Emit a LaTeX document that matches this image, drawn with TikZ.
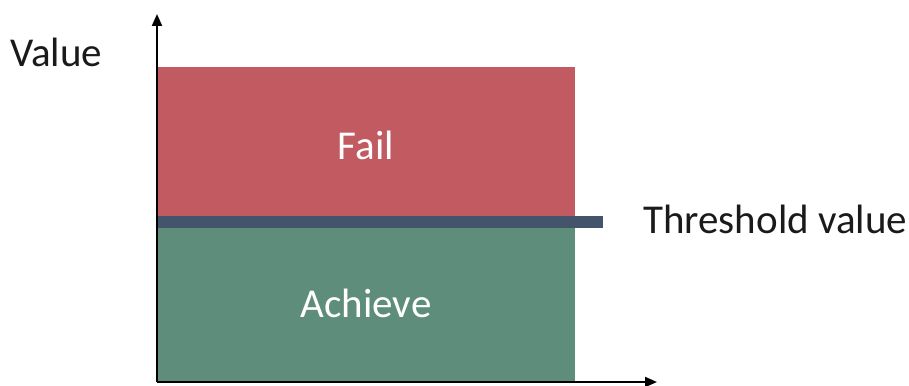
\documentclass[tikz,border=0pt]{standalone}
\usepackage{fontspec}
\setmainfont{Carlito}
\usetikzlibrary{arrows.meta}
\definecolor{failred}{HTML}{C25A62}
\definecolor{achgreen}{HTML}{5F8D7C}
\definecolor{barblue}{HTML}{44546A}
\definecolor{txt}{HTML}{1A1A1A}
\begin{document}
\begin{tikzpicture}[x=1pt,y=-1pt,
  lbl/.style={font=\fontsize{41}{48}\selectfont},
  axis/.style={line width=2pt,-{Triangle[length=12pt,width=10pt]}}]
\useasboundingbox (0,0) rectangle (909,385);
\fill[failred] (157,67) rectangle (575,216);
\fill[achgreen] (157,216) rectangle (575,382);
\fill[barblue] (157,216) rectangle (603,228);
\node[lbl,text=white] (fail) at (366,145) {Fail};
\node[lbl,text=white] (ach) at (366,303) {Achieve};
\node[lbl,text=txt,anchor=west,inner sep=0pt] (thr) at (643,219) {Threshold value};
\node[lbl,text=txt,anchor=west,inner sep=0pt] (val) at (10,52) {Value};
\coordinate (o) at (157,382);
\coordinate (ytop) at (157,14);
\coordinate (xend) at (657,382);
\draw[axis] (o) -- (ytop);
\draw[axis] (o) -- (xend);
\end{tikzpicture}
\end{document}
